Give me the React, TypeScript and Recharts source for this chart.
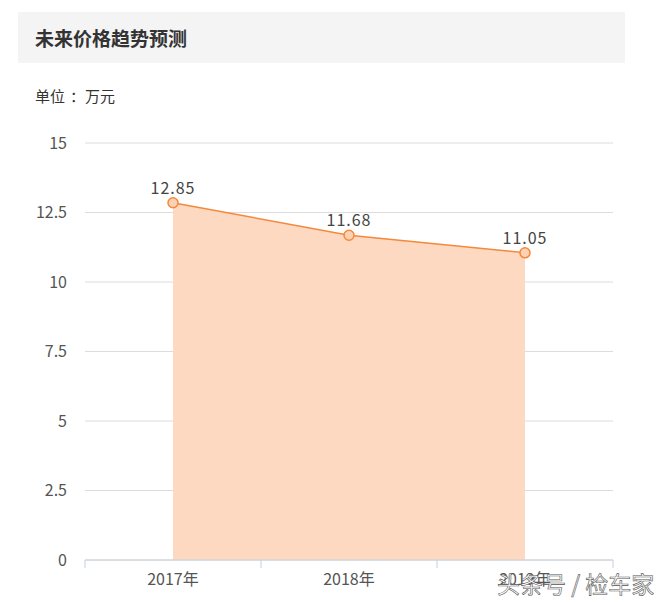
import { AreaChart, Area, XAxis, YAxis, CartesianGrid, LabelList } from "recharts";

const years = ["2017年", "2018年", "2019年"];
const prices = [12.85, 11.68, 11.05];
const yTicks = [0, 2.5, 5, 7.5, 10, 12.5, 15];
const xTicks = [0, 0.5, 1, 1.5, 2, 2.5, 3];

const data = years.map((year, i) => ({ pos: i + 0.5, year, price: prices[i] }));

const font = '"Noto Sans CJK SC", "Open Sans", sans-serif';

const XTick = (props: any) => {
  const { x, y, payload } = props;
  const v = payload.value;
  if (Number.isInteger(v)) {
    return <line x1={x} x2={x} y1={y} y2={y + 8} stroke="#c6d0dc" strokeWidth={1} />;
  }
  const idx = Math.floor(v);
  return (
    <text x={x} y={y + 25} textAnchor="middle" fontSize={16} fill="#555" fontFamily={font}>
      {years[idx]}
    </text>
  );
};

export default function App() {
  return (
    <div style={{ position: "absolute", left: 0, top: 0, width: 670, height: 604, background: "#fff", fontFamily: font }}>
      <div style={{ position: "absolute", left: 18, top: 12, width: 607, height: 51, background: "#f4f4f4" }} />
      <div style={{ position: "absolute", left: 35, top: 24, fontSize: 19, fontWeight: 700, color: "#333" }}>未来价格趋势预测</div>
      <div style={{ position: "absolute", left: 35, top: 85, fontSize: 15, color: "#333", whiteSpace: "nowrap" }}>
        单位<span style={{ marginLeft: 5 }}>：</span>万元
      </div>
      <div style={{ position: "absolute", left: 0, top: 0 }}>
        <AreaChart width={670} height={604} data={data} margin={{ top: 143, right: 57, bottom: 14, left: 0 }}>
          <CartesianGrid vertical={false} stroke="#dcdcdc" />
          <XAxis
            dataKey="pos"
            type="number"
            domain={[0, 3]}
            ticks={xTicks}
            interval={0}
            height={30}
            axisLine={{ stroke: "#c6d0dc" }}
            tickLine={false}
            tickSize={0}
            tickMargin={0}
            tick={<XTick />}
          />
          <YAxis
            type="number"
            domain={[0, 15]}
            ticks={yTicks}
            interval={0}
            width={85}
            axisLine={false}
            tickLine={false}
            tickSize={0}
            tickMargin={18}
            tick={{ fontSize: 16, fill: "#555", fontFamily: font }}
          />
          <Area
            type="linear"
            dataKey="price"
            stroke="#f5883b"
            strokeWidth={1.5}
            fill="#fdd9c2"
            fillOpacity={1}
            isAnimationActive={false}
            dot={{ r: 5, fill: "#fcd2b4", stroke: "#f5883b", strokeWidth: 1.5, fillOpacity: 1 }}
          >
            <LabelList dataKey="price" position="top" offset={9} fontSize={16} fill="#444" fontFamily={font} style={{ letterSpacing: 1 }} />
          </Area>
        </AreaChart>
      </div>
      <div
        style={{
          position: "absolute",
          left: 497,
          top: 566,
          fontSize: 23,
          color: "#fff",
          WebkitTextStroke: "0.6px #555",
          whiteSpace: "nowrap",
        }}
      >
        头条号 / 检车家
      </div>
    </div>
  );
}
